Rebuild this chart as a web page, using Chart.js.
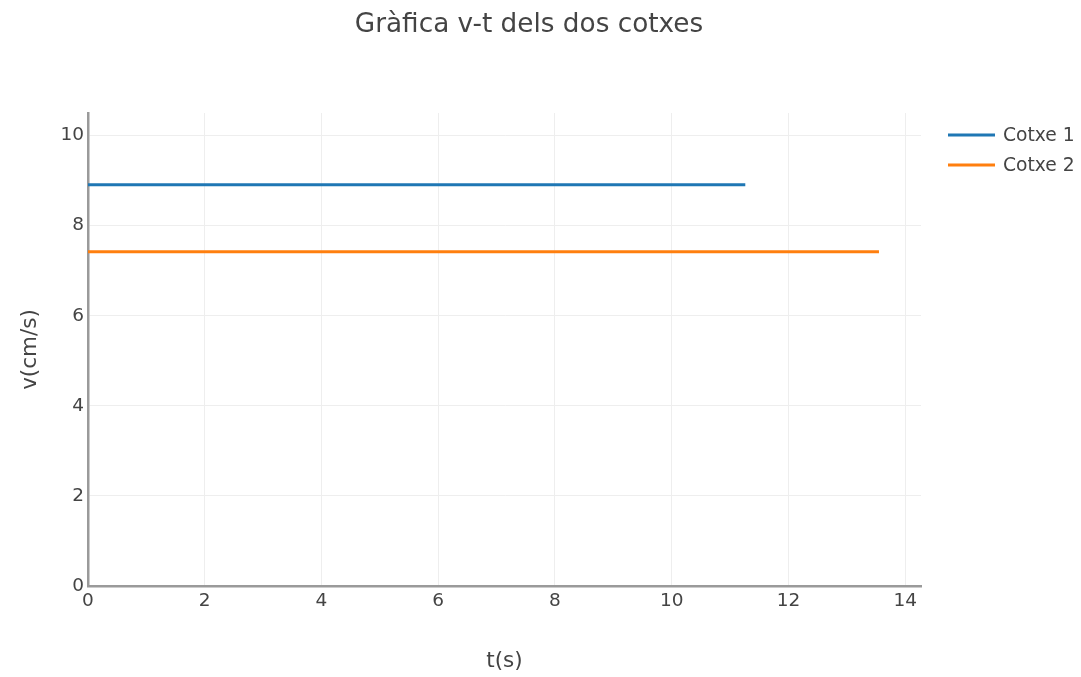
<!DOCTYPE html>
<html>
<head>
<meta charset="utf-8">
<script src="https://cdn.jsdelivr.net/npm/chart.js@4.4.1/dist/chart.umd.min.js"></script>
<style>
  html, body { margin: 0; padding: 0; background: #fff; }
  #wrap { width: 1081px; height: 677px; position: relative; }
</style>
</head>
<body>
<div id="wrap"><canvas id="c"></canvas></div>
<script>
const chartTitle = "Gràfica v-t dels dos cotxes";
const xTitle = "t(s)";
const yTitle = "v(cm/s)";
const seriesNames = ["Cotxe 1", "Cotxe 2"];
const seriesColors = ["#1f77b4", "#ff7f0e"];
const t1 = [0, 0.68, 10.59, 11.26];
const v1 = [8.91, 8.91, 8.91, 8.91];
const t2 = [0, 1.34, 12.2, 13.55];
const v2 = [7.42, 7.42, 7.42, 7.42];
const xTicks = [0, 2, 4, 6, 8, 10, 12, 14];
const yTicks = [0, 2, 4, 6, 8, 10];

const FONT = "'DejaVu Sans', Verdana, sans-serif";
const TXT = "#444";

const decorPlugin = {
  id: 'decor',
  afterDraw(chart) {
    const ctx = chart.ctx;
    ctx.save();
    // title
    ctx.fillStyle = TXT;
    ctx.font = "26.3px " + FONT;
    ctx.textAlign = "center";
    ctx.textBaseline = "middle";
    ctx.fillText(chartTitle, 529, 25);
    // legend
    chart.data.datasets.forEach((ds, i) => {
      const y = 135 + 30 * i;
      ctx.strokeStyle = ds.borderColor;
      ctx.lineWidth = 3;
      ctx.beginPath();
      ctx.moveTo(948, y);
      ctx.lineTo(995, y);
      ctx.stroke();
      ctx.fillStyle = TXT;
      ctx.font = "18.7px " + FONT;
      ctx.textBaseline = "middle";
      ctx.textAlign = "left";
      ctx.fillText(ds.label, 1003, y + 1);
    });
    ctx.restore();
  }
};

new Chart(document.getElementById('c'), {
  type: 'line',
  data: {
    datasets: [
      { label: seriesNames[0], data: t1.map((t, i) => ({ x: t, y: v1[i] })), borderColor: seriesColors[0], backgroundColor: seriesColors[0], borderWidth: 3, pointRadius: 0, fill: false, tension: 0 },
      { label: seriesNames[1], data: t2.map((t, i) => ({ x: t, y: v2[i] })), borderColor: seriesColors[1], backgroundColor: seriesColors[1], borderWidth: 3, pointRadius: 0, fill: false, tension: 0 }
    ]
  },
  options: {
    responsive: true,
    maintainAspectRatio: false,
    animation: false,
    devicePixelRatio: 1,
    layout: { padding: { left: 6, right: 160, top: 113, bottom: 2 } },
    plugins: {
      legend: { display: false },
      tooltip: { enabled: false },
      title: { display: false }
    },
    scales: {
      x: {
        type: 'linear',
        min: 0,
        max: 14.27,
        afterBuildTicks(scale) { scale.ticks = xTicks.map(v => ({ value: v })); },
        afterFit(scale) { scale.height = 89; },
        ticks: { color: TXT, font: { family: FONT, size: 18.5 }, padding: 4, maxRotation: 0 },
        grid: { color: '#eeeeee', lineWidth: 1, drawTicks: false, tickLength: 0 },
        border: { color: '#9a9a9a', width: 2.5 },
        title: { display: true, text: xTitle, color: TXT, font: { family: FONT, size: 21.5 }, padding: { top: 4, bottom: 1 } }
      },
      y: {
        type: 'linear',
        min: 0,
        max: 10.5,
        afterBuildTicks(scale) { scale.ticks = yTicks.map(v => ({ value: v })); },
        afterFit(scale) { scale.width = 82; },
        ticks: { color: TXT, font: { family: FONT, size: 18.5 }, padding: 4 },
        grid: { color: '#eeeeee', lineWidth: 1, drawTicks: false, tickLength: 0 },
        border: { color: '#9a9a9a', width: 2.5 },
        title: { display: true, text: yTitle, color: TXT, font: { family: FONT, size: 21.5 }, padding: { top: 12, bottom: 0 } }
      }
    }
  },
  plugins: [decorPlugin]
});
</script>
</body>
</html>
